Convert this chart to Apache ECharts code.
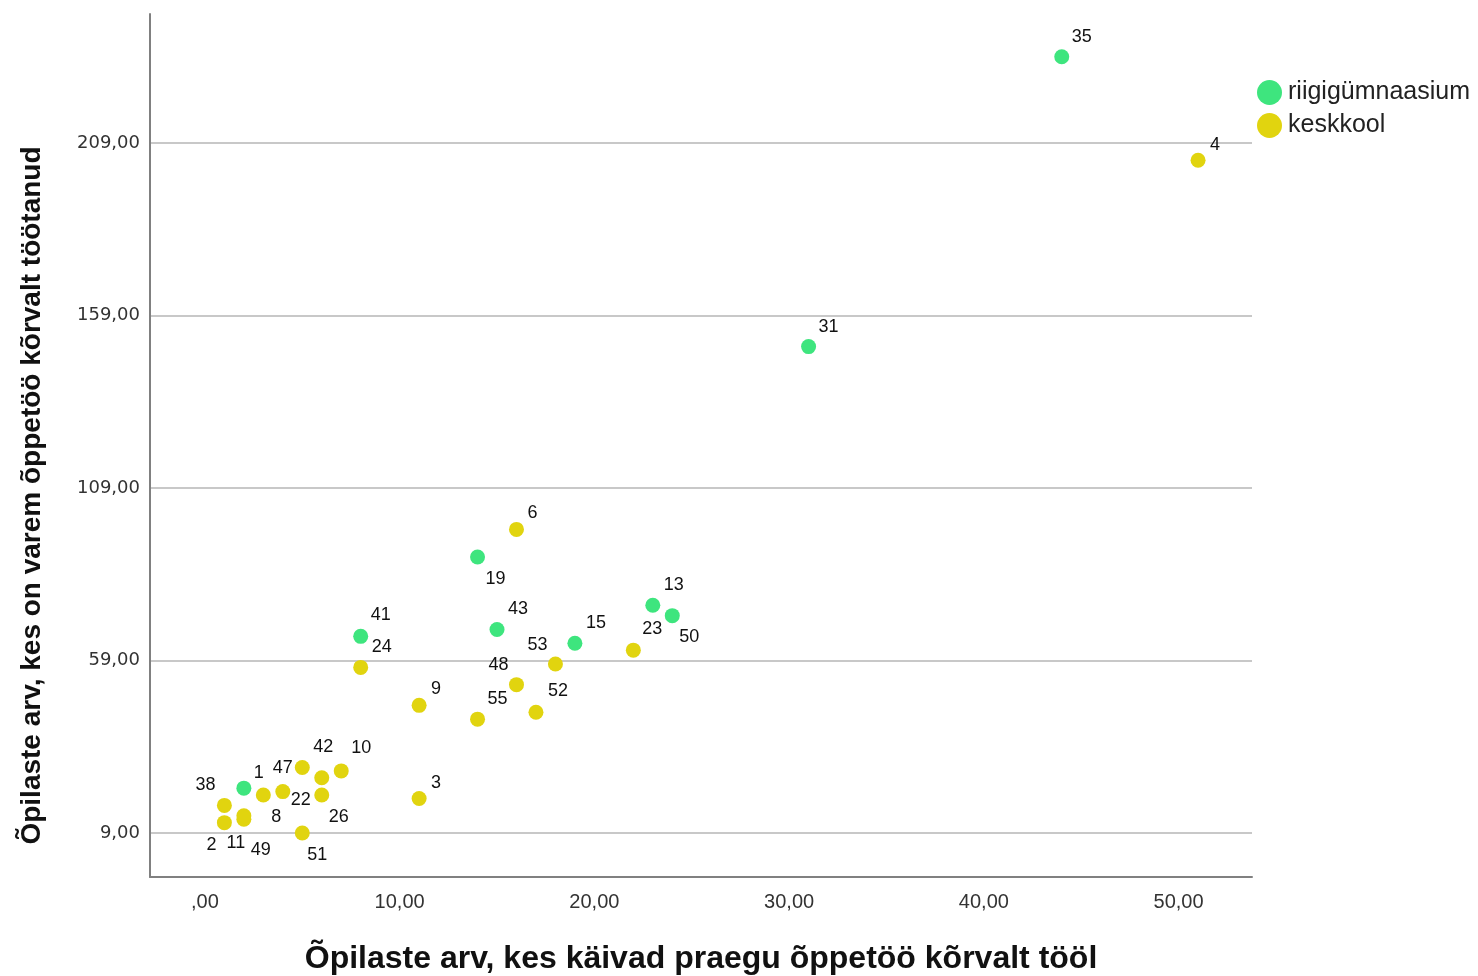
<!DOCTYPE html>
<html>
<head>
<meta charset="utf-8">
<script src="https://cdn.jsdelivr.net/npm/echarts@6/dist/echarts.min.js"></script>
<style>
html,body{margin:0;padding:0;background:#fff;}
#chart{width:1478px;height:976px;}
</style>
</head>
<body>
<div id="chart"></div>
<script>
const categories = ['riigigümnaasium', 'keskkool'];

const riigiIds = ['35', '31', '19', '13', '50', '43', '15', '41', '1'];
const riigiX = [44, 31, 14, 23, 24, 15, 19, 8, 2];
const riigiY = [234, 150, 89, 75, 72, 68, 64, 66, 22];

const keskIds = ['4', '6', '23', '53', '48', '52', '55', '9', '3', '24', '38', '2', '11', '49', '8', '47', '22', '42', '10', '26', '51'];
const keskX = [51, 16, 22, 18, 16, 17, 14, 11, 11, 8, 1, 1, 2, 2, 3, 4, 6, 5, 7, 6, 5];
const keskY = [204, 97, 62, 58, 52, 44, 42, 46, 19, 57, 17, 12, 13, 14, 20, 21, 25, 28, 27, 20, 9];

const xTicks = [0, 10, 20, 30, 40, 50];
const xTickLabels = [',00', '10,00', '20,00', '30,00', '40,00', '50,00'];
const yTicks = [9, 59, 109, 159, 209];
const yTickLabels = ['9,00', '59,00', '109,00', '159,00', '209,00'];

const xTitle = 'Õpilaste arv, kes käivad praegu õppetöö kõrvalt tööl';
const yTitle = 'Õpilaste arv, kes on varem õppetöö kõrvalt töötanud';

// label placement (layout only): offset of each point label from its marker centre
const labelOffset = {
  '35': [20, -20], '31': [20, -20], '19': [18, 22], '13': [21, -20], '50': [17, 21],
  '43': [21, -20], '15': [21, -20], '41': [20, -21], '1': [15, -15],
  '4': [17, -15], '6': [16, -16], '23': [19, -21], '53': [-18, -19], '48': [-18, -20],
  '52': [22, -21], '55': [20, -20], '9': [17, -16], '3': [17, -15], '24': [21, -20],
  '38': [-19, -20], '2': [-13, 22], '11': [-8, 24], '49': [17, 34], '8': [13, 22],
  '47': [0, -24], '22': [-21, 22], '42': [21, -20], '10': [20, -23], '26': [17, 22], '51': [15, 22]
};

const colors = ['#3ee57e', '#e1d40f'];

function buildData(ids, xs, ys) {
  return ids.map((id, i) => ({ name: id, value: [xs[i], ys[i]] }));
}

function makeLayout(ids) {
  return function (params) {
    const off = labelOffset[ids[params.dataIndex]] || [15, -15];
    return { dx: off[0], dy: off[1], hideOverlap: false };
  };
}

const chart = echarts.init(document.getElementById('chart'));
const labelStyle = {
  show: true,
  position: 'inside',
  formatter: p => p.name,
  fontFamily: 'Liberation Sans, Arial, sans-serif',
  fontSize: 18,
  color: '#111'
};

chart.setOption({
  animation: false,
  backgroundColor: '#ffffff',
  color: colors,
  grid: { left: 150, right: 226, top: 14, bottom: 99, containLabel: false, outerBoundsMode: 'none' },
  legend: {
    orient: 'vertical',
    left: 1257,
    top: 80,
    padding: 0,
    icon: 'circle',
    itemWidth: 25,
    itemHeight: 25,
    itemGap: 8,
    textStyle: { fontFamily: 'Liberation Sans, Arial, sans-serif', fontSize: 25, color: '#222', padding: [0, 0, 0, 1] },
    data: categories
  },
  xAxis: {
    type: 'value',
    min: -2.82,
    max: 53.77,
    name: xTitle,
    nameLocation: 'middle',
    nameGap: 66,
    nameTextStyle: { fontFamily: 'Liberation Sans, Arial, sans-serif', fontWeight: 'bold', fontSize: 32, color: '#111' },
    axisLine: { show: true, onZero: false, lineStyle: { color: '#808080', width: 2 } },
    axisTick: { show: false, customValues: xTicks },
    splitLine: { show: false },
    axisLabel: {
      customValues: xTicks,
      formatter: v => xTickLabels[xTicks.indexOf(v)] ?? '',
      margin: 15,
      fontFamily: 'Liberation Sans, Arial, sans-serif',
      fontSize: 20,
      color: '#333'
    }
  },
  yAxis: {
    type: 'value',
    min: -3.75,
    max: 246.4,
    name: yTitle,
    nameLocation: 'middle',
    nameGap: 104,
    nameRotate: 90,
    nameTextStyle: { fontFamily: 'Liberation Sans, Arial, sans-serif', fontWeight: 'bold', fontSize: 28, color: '#111', padding: [0, 100, 0, 0] },
    axisLine: { show: true, onZero: false, lineStyle: { color: '#808080', width: 2 } },
    axisTick: { show: false, customValues: yTicks },
    splitLine: { show: true, lineStyle: { color: '#c8c8c8', width: 2 } },
    axisLabel: {
      customValues: yTicks,
      formatter: v => yTickLabels[yTicks.indexOf(v)] ?? '',
      margin: 10,
      fontFamily: 'DejaVu Sans, sans-serif',
      fontSize: 18,
      color: '#333'
    }
  },
  series: [
    {
      name: categories[0],
      type: 'scatter',
      symbolSize: 15,
      itemStyle: { color: colors[0], opacity: 1 },
      label: labelStyle,
      labelLayout: makeLayout(riigiIds),
      emphasis: { disabled: true },
      data: buildData(riigiIds, riigiX, riigiY)
    },
    {
      name: categories[1],
      type: 'scatter',
      symbolSize: 15,
      itemStyle: { color: colors[1], opacity: 1 },
      label: labelStyle,
      labelLayout: makeLayout(keskIds),
      emphasis: { disabled: true },
      data: buildData(keskIds, keskX, keskY)
    }
  ]
});
</script>
</body>
</html>
